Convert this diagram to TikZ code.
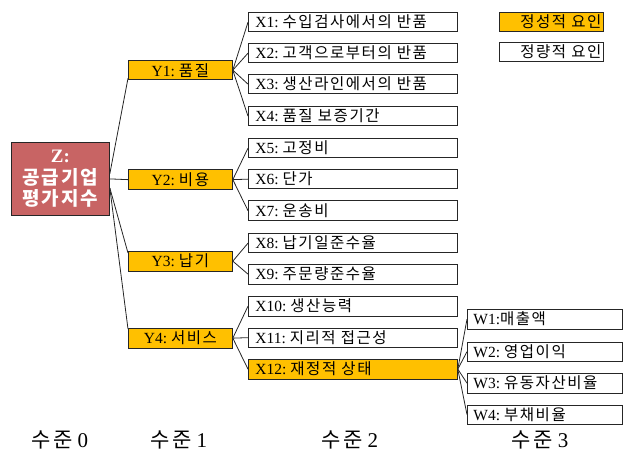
\documentclass[tikz,border=0pt]{standalone}
\usepackage{fontspec}
\setmainfont{Liberation Serif}
\newfontfamily\kr[LetterSpace=10]{Noto Sans CJK KR}
\newcommand\K[1]{{\kr #1}}
\newcommand\gapsp{\hspace{4pt}}
\definecolor{qual}{HTML}{FFC000}
\definecolor{zred}{HTML}{C86464}
\begin{document}
\begin{tikzpicture}[x=1pt,y=-1pt,line width=0.8pt,
  base/.style={draw=black!85,rectangle,inner ysep=0pt,minimum height=19.5pt,font=\fontsize{15.5}{17}\selectfont},
  ybox/.style={base,fill=qual,minimum width=104pt,anchor=north west,align=center},
  xbox/.style={base,fill=white,text width=195pt,inner xsep=7pt,align=left,anchor=north west},
  xqbox/.style={xbox,fill=qual},
  wbox/.style={base,fill=white,text width=143pt,inner xsep=6pt,align=left,anchor=north west},
  legbox/.style={base,text width=100pt,inner xsep=2pt,align=right,anchor=north west},
  lvl/.style={font=\fontsize{21}{23}\selectfont,anchor=base},
  conn/.style={draw=black!85,line width=0.8pt}]
\useasboundingbox (0,0) rectangle (626,454);
% root
\node[draw=black!85,fill=zred,minimum width=98pt,minimum height=73pt,anchor=north west,
  text=white,align=center,font=\fontsize{19}{21.5}\selectfont\bfseries,inner sep=0pt] (Z) at (11,142)
  {Z:\\ {\kr\bfseries 공급기업}\\ {\kr\bfseries 평가지수}};
% level 1
\node[ybox] (Y1) at (128,60) {Y1:\gapsp\K{품질}};
\node[ybox] (Y2) at (128,169.5) {Y2:\gapsp\K{비용}};
\node[ybox] (Y3) at (128,251) {Y3:\gapsp\K{납기}};
\node[ybox] (Y4) at (128,328) {Y4:\gapsp\K{서비스}};
% level 2
\node[xbox] (X1) at (248,12) {X1:\gapsp\K{수입검사에서의 반품}};
\node[xbox] (X2) at (248,43) {X2:\gapsp\K{고객으로부터의 반품}};
\node[xbox] (X3) at (248,74) {X3:\gapsp\K{생산라인에서의 반품}};
\node[xbox] (X4) at (248,106) {X4:\gapsp\K{품질 보증기간}};
\node[xbox] (X5) at (248,138) {X5:\gapsp\K{고정비}};
\node[xbox] (X6) at (248,169) {X6:\gapsp\K{단가}};
\node[xbox] (X7) at (248,200.5) {X7:\gapsp\K{운송비}};
\node[xbox] (X8) at (248,233) {X8:\gapsp\K{납기일준수율}};
\node[xbox] (X9) at (248,264) {X9:\gapsp\K{주문량준수율}};
\node[xbox] (X10) at (248,296) {X10:\gapsp\K{생산능력}};
\node[xbox] (X11) at (248,327.5) {X11:\gapsp\K{지리적 접근성}};
\node[xqbox] (X12) at (248,359) {X12:\gapsp\K{재정적 상태}};
% level 3
\node[wbox] (W1) at (467,309) {W1:\K{매출액}};
\node[wbox] (W2) at (467,341.5) {W2:\gapsp\K{영업이익}};
\node[wbox] (W3) at (467,373) {W3:\gapsp\K{유동자산비율}};
\node[wbox] (W4) at (467,404.5) {W4:\gapsp\K{부채비율}};
% legend
\node[legbox,fill=qual] (L1) at (499,12) {\K{정성적 요인}};
\node[legbox,fill=white] (L2) at (499,42) {\K{정량적 요인}};
% level labels
\node[lvl] (S0) at (60,447) {\K{수준} 0};
\node[lvl] (S1) at (179,447) {\K{수준} 1};
\node[lvl] (S2) at (350,447) {\K{수준} 2};
\node[lvl] (S3) at (540,447) {\K{수준} 3};
% connectors
\draw[conn] ([yshift=5pt]Z.east) -- ([yshift=2pt]Y1.south west);
\draw[conn] (Z.east) -- (Y2.west);
\draw[conn] ([yshift=-9pt]Z.east) -- ([yshift=-2pt]Y3.north west);
\draw[conn] ([yshift=-9pt]Z.east) -- ([yshift=-1pt]Y4.north west);
\foreach \x in {X1,X2,X3,X4} \draw[conn] (Y1.east) -- (\x.west);
\foreach \x in {X5,X6,X7} \draw[conn] (Y2.east) -- (\x.west);
\foreach \x in {X8,X9} \draw[conn] (Y3.east) -- (\x.west);
\foreach \x in {X10,X11,X12} \draw[conn] (Y4.east) -- (\x.west);
\foreach \w in {W1,W2,W3,W4} \draw[conn] (X12.east) -- (\w.west);
\end{tikzpicture}
\end{document}
